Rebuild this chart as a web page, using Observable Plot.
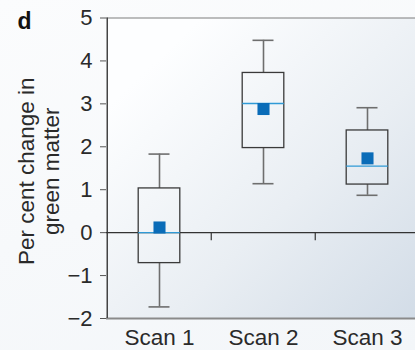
<!DOCTYPE html>
<html>
<head>
<meta charset="utf-8">
<script src="https://cdn.jsdelivr.net/npm/d3@7"></script>
<script src="https://cdn.jsdelivr.net/npm/@observablehq/plot@0.6"></script>
<style>
  html, body { margin: 0; padding: 0; }
  body { width: 415px; height: 350px; overflow: hidden; background: linear-gradient(160deg, #fbfcfd 0%, #f3f6f9 100%); }
</style>
</head>
<body>
<div id="chart"></div>
<script>
const categories = ["Scan 1", "Scan 2", "Scan 3"];
const whiskerLow  = [-1.73, 1.14, 0.87];
const q1          = [-0.71, 1.97, 1.12];
const median      = [0.00, 3.01, 1.55];
const q3          = [1.03, 3.72, 2.38];
const whiskerHigh = [1.83, 4.48, 2.91];
const mean        = [0.12, 2.88, 1.73];
const yTicks = [-2, -1, 0, 1, 2, 3, 4, 5];
const boundaryTicks = ["Scan 2", "Scan 3"];
const yLabel = "Per cent change in\ngreen matter";
const panelLabel = "d";

const rows = categories.map((c, i) => ({
  scan: c, lo: whiskerLow[i], q1: q1[i], med: median[i], q3: q3[i], hi: whiskerHigh[i], mean: mean[i]
}));

const W = 415, H = 350, mL = 106, mR = -4.5, mT = 17.5, mB = 32;
const half = (W - mL - mR) / categories.length / 2;
const font = "'Liberation Sans', Arial, Helvetica, sans-serif";

const chart = Plot.plot({
  width: W, height: H,
  marginLeft: mL, marginRight: mR, marginTop: mT, marginBottom: mB,
  style: { fontFamily: font, fontSize: "22px", color: "#2a2a2a", background: "transparent", overflow: "visible" },
  x: { domain: categories, padding: 0, axis: null },
  y: { domain: [-2, 5], axis: null },
  marks: [
    Plot.frame({ fill: "url(#bgGrad)", stroke: null }),
    Plot.ruleY([5], { stroke: "#7d7d7d", strokeWidth: 1 }),
    Plot.ruleY([-2], { stroke: "#8a8a8a", strokeWidth: 2 }),
    Plot.ruleX([categories[0]], { dx: -half, stroke: "#444", strokeWidth: 1.5 }),
    Plot.axisY({ ticks: yTicks, tickSize: 6, tickPadding: 8, fontSize: 22, stroke: "#555", label: null, tickFormat: d3.format("") }),
    Plot.axisX({ tickSize: 0, tickPadding: 11, fontSize: 22.5, label: null }),
    Plot.ruleY([0], { stroke: "#333", strokeWidth: 1.2 }),
    Plot.ruleX(boundaryTicks, { x: d => d, y1: 0, y2: -0.19, dx: -half, stroke: "#333", strokeWidth: 1.2 }),
    // whiskers
    Plot.ruleX(rows, { x: "scan", y1: "q3", y2: "hi", stroke: "#6e6e6e", strokeWidth: 1.6 }),
    Plot.ruleX(rows, { x: "scan", y1: "lo", y2: "q1", stroke: "#6e6e6e", strokeWidth: 1.6 }),
    Plot.tickY(rows, { x: "scan", y: "hi", insetLeft: 41.5, insetRight: 41.5, stroke: "#6e6e6e", strokeWidth: 1.6 }),
    Plot.tickY(rows, { x: "scan", y: "lo", insetLeft: 41.5, insetRight: 41.5, stroke: "#6e6e6e", strokeWidth: 1.6 }),
    // boxes
    Plot.barY(rows, { x: "scan", y1: "q1", y2: "q3", insetLeft: 31.2, insetRight: 31.2, fill: "none", stroke: "#3a3a3a", strokeWidth: 1.3 }),
    Plot.tickY(rows, { x: "scan", y: "med", insetLeft: 31.2, insetRight: 31.2, stroke: "#2f9ad6", strokeWidth: 1.4 }),
    Plot.dot(rows, { x: "scan", y: "mean", symbol: "square", r: 6.8, fill: "#0a6cb8", stroke: null }),
    // labels
    Plot.text([yLabel], { text: d => d, frameAnchor: "left", rotate: -90, dx: -68, dy: 3, fontSize: 22.5, lineHeight: 1.1, textAnchor: "middle", lineAnchor: "middle", fill: "#2a2a2a" }),
    Plot.text([panelLabel], { text: d => d, frameAnchor: "top-left", dx: -89, dy: -5, fontSize: 23, fontWeight: "bold", textAnchor: "start", lineAnchor: "top", fill: "#111" })
  ]
});

const defs = d3.select(chart).insert("defs", ":first-child");
const g = defs.append("linearGradient").attr("id", "bgGrad")
  .attr("x1", "0").attr("y1", "0").attr("x2", "1").attr("y2", "1");
g.append("stop").attr("offset", "0.15").attr("stop-color", "#fdfeff");
g.append("stop").attr("offset", "0.6").attr("stop-color", "#e9eef3");
g.append("stop").attr("offset", "1").attr("stop-color", "#d2dce7");

document.getElementById("chart").appendChild(chart);
</script>
</body>
</html>
